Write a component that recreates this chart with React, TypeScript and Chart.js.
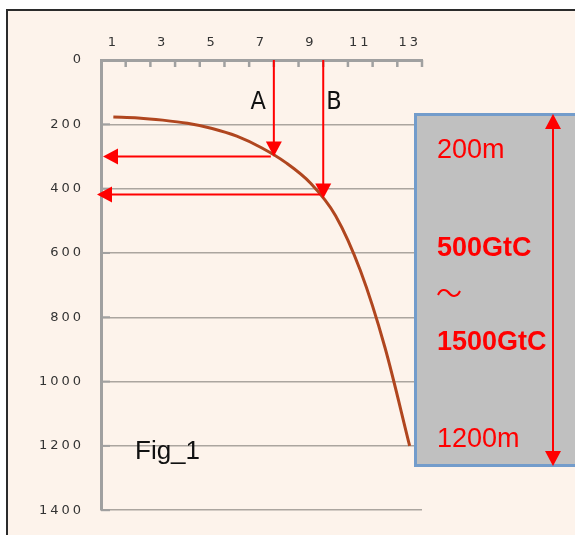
import React, { useEffect, useRef } from 'react';
import { Chart, registerables } from 'chart.js';

Chart.register(...registerables);

// ---- data ----
const categories = ['1', '2', '3', '4', '5', '6', '7', '8', '9', '10', '11', '12', '13'];
const depthValues = [177, 180, 187, 197, 213, 237, 273, 320, 384, 484, 654, 894, 1200];
const depthTicks = [0, 200, 400, 600, 800, 1000, 1200, 1400];
const markerLabels = ['A', 'B'];
const markerIndex = [6.5, 8.5];
const markerDepth = [300, 418];
const boxLines = ['200m', '500GtC', '～', '1500GtC', '1200m'];
const figLabel = 'Fig_1';

const W = 575;
const H = 535;
const RED = '#ff0000';
const SANS = '"Liberation Sans", Arial, sans-serif';

function line(ctx: CanvasRenderingContext2D, x1: number, y1: number, x2: number, y2: number) {
  ctx.beginPath();
  ctx.moveTo(x1, y1);
  ctx.lineTo(x2, y2);
  ctx.stroke();
}

function head(ctx: CanvasRenderingContext2D, tx: number, ty: number, dir: string, len: number, half: number) {
  ctx.beginPath();
  ctx.moveTo(tx, ty);
  if (dir === 'down') {
    ctx.lineTo(tx - half, ty - len);
    ctx.lineTo(tx + half, ty - len);
  } else if (dir === 'up') {
    ctx.lineTo(tx - half, ty + len);
    ctx.lineTo(tx + half, ty + len);
  } else {
    ctx.lineTo(tx + len, ty - half);
    ctx.lineTo(tx + len, ty + half);
  }
  ctx.closePath();
  ctx.fill();
}

const overlayPlugin = {
  id: 'overlay',
  beforeDraw(chart: any) {
    const ctx: CanvasRenderingContext2D = chart.ctx;
    ctx.save();
    ctx.fillStyle = '#ffffff';
    ctx.fillRect(0, 0, W, H);
    ctx.fillStyle = '#fdf3eb';
    ctx.fillRect(7, 10, W - 7, H - 10);
    ctx.strokeStyle = '#2b2b2b';
    ctx.lineWidth = 2;
    ctx.beginPath();
    ctx.moveTo(7, H);
    ctx.lineTo(7, 10);
    ctx.lineTo(W, 10);
    ctx.stroke();
    ctx.restore();
    (ctx as any).letterSpacing = '3px';
  },
  afterDatasetsDraw(chart: any) {
    const ctx: CanvasRenderingContext2D = chart.ctx;
    (ctx as any).letterSpacing = '0px';
    const xs = chart.scales.x;
    const ys = chart.scales.y;
    const { left, top } = chart.chartArea;
    ctx.save();

    // inside tick marks
    ctx.strokeStyle = '#a0a0a0';
    ctx.lineWidth = 2.5;
    for (let i = 0; i < categories.length; i++) {
      const x = xs.getPixelForValue(i + 0.5);
      line(ctx, x, top, x, top + 7);
    }
    ctx.lineWidth = 2;
    depthTicks.forEach((v) => {
      const y = ys.getPixelForValue(v);
      line(ctx, left, y, left + 9, y);
    });

    // A / B arrows
    ctx.strokeStyle = RED;
    ctx.fillStyle = RED;
    ctx.lineWidth = 2;
    markerLabels.forEach((lab, k) => {
      const x = xs.getPixelForValue(markerIndex[k]);
      const y = ys.getPixelForValue(markerDepth[k]);
      const tipV = k === 0 ? y : y + 4;
      line(ctx, x, top, x, tipV - 12);
      head(ctx, x, tipV, 'down', 15, 8);
      const tipH = k === 0 ? left + 2 : left - 4;
      line(ctx, x - 3, y, tipH + 12, y);
      head(ctx, tipH, y, 'left', 15, 8);
      ctx.save();
      ctx.fillStyle = '#111111';
      ctx.font = '25px "Liberation Sans Narrow", "DejaVu Sans Condensed", sans-serif';
      ctx.textBaseline = 'alphabetic';
      if (k === 0) {
        ctx.textAlign = 'right';
        ctx.fillText(lab, x - 8, top + 49);
      } else {
        ctx.textAlign = 'left';
        ctx.fillText(lab, x + 3, top + 49);
      }
      ctx.restore();
    });

    // grey box
    ctx.fillStyle = '#c0c0c0';
    ctx.fillRect(415, 114, W - 415, 352);
    ctx.strokeStyle = '#739ccb';
    ctx.lineWidth = 3;
    ctx.strokeRect(415.5, 114.5, W, 351);

    // double arrow
    ctx.strokeStyle = RED;
    ctx.fillStyle = RED;
    ctx.lineWidth = 2;
    line(ctx, 553, 126, 553, 454);
    head(ctx, 553, 114, 'up', 15, 8);
    head(ctx, 553, 466, 'down', 15, 8);

    // box texts
    ctx.fillStyle = RED;
    ctx.textAlign = 'left';
    ctx.textBaseline = 'alphabetic';
    ctx.font = `27px ${SANS}`;
    ctx.fillText(boxLines[0], 437, 158);
    ctx.font = `bold 27px ${SANS}`;
    ctx.fillText(boxLines[1], 437, 256);
    ctx.font = '26px "Noto Sans CJK JP", sans-serif';
    ctx.textBaseline = 'middle';
    ctx.fillText(boxLines[2], 436, 293);
    ctx.textBaseline = 'alphabetic';
    ctx.font = `bold 27px ${SANS}`;
    ctx.fillText(boxLines[3], 437, 350);
    ctx.font = `27px ${SANS}`;
    ctx.fillText(boxLines[4], 437, 447);

    // figure label
    ctx.fillStyle = '#111111';
    ctx.font = `26px ${SANS}`;
    ctx.fillText(figLabel, 135, 459);

    ctx.restore();
  },
};

export default function App() {
  const ref = useRef<HTMLCanvasElement>(null);
  useEffect(() => {
    const tickFont = { family: '"DejaVu Sans", sans-serif', size: 13 };
    const chart = new Chart(ref.current as HTMLCanvasElement, {
      type: 'line',
      data: {
        labels: categories,
        datasets: [
          {
            data: depthValues,
            borderColor: '#b0461f',
            borderWidth: 3,
            pointRadius: 0,
            cubicInterpolationMode: 'monotone',
            fill: false,
          },
        ],
      },
      options: {
        animation: false,
        responsive: false,
        layout: { padding: { left: 0, top: 0, right: 153, bottom: 24 } },
        plugins: { legend: { display: false }, tooltip: { enabled: false } },
        scales: {
          x: {
            type: 'category',
            position: 'top',
            offset: true,
            grid: { display: false, drawTicks: false },
            border: { display: true, color: '#a0a0a0', width: 3 },
            ticks: {
              autoSkip: false,
              maxRotation: 0,
              padding: 10,
              color: '#333333',
              font: tickFont,
              callback: (_v: any, i: number) => (i % 2 === 0 ? categories[i] : ''),
            },
            afterFit: (s: any) => {
              s.height = 60;
            },
          },
          y: {
            reverse: true,
            min: depthTicks[0],
            max: depthTicks[depthTicks.length - 1],
            grid: { color: '#aba59f', lineWidth: 1.5, drawTicks: false },
            border: { display: true, color: '#a0a0a0', width: 3 },
            ticks: {
              padding: 17,
              color: '#333333',
              font: tickFont,
              callback: (v: any) => String(v),
            },
            afterBuildTicks: (s: any) => {
              s.ticks = depthTicks.map((v) => ({ value: v }));
            },
            afterFit: (s: any) => {
              s.width = 101;
            },
          },
        } as any,
      },
      plugins: [overlayPlugin],
    });
    return () => chart.destroy();
  }, []);
  return (
    <div style={{ position: 'absolute', left: 0, top: 0, width: W, height: H }}>
      <canvas ref={ref} width={W} height={H} style={{ display: 'block', width: W, height: H }} />
    </div>
  );
}
